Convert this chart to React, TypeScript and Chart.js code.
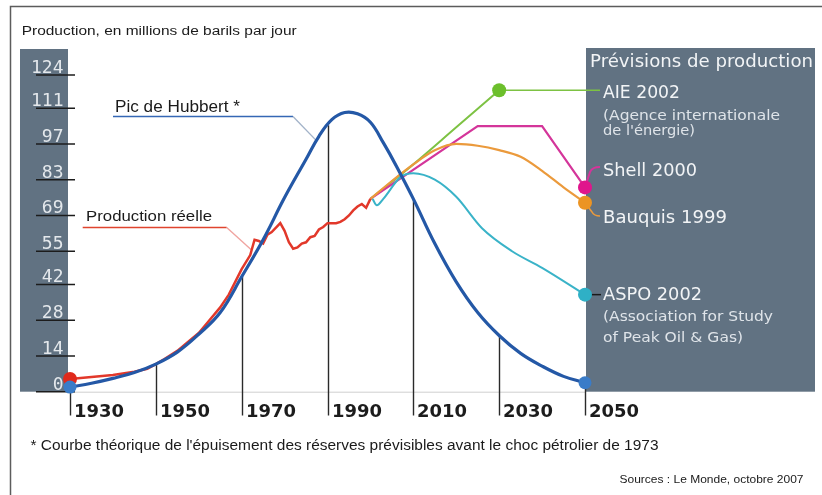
import React, { useEffect, useRef } from "react";
import { Chart, registerables } from "chart.js";

Chart.register(...registerables);

// ---------- DATA ----------
const xTicks = [1930, 1950, 1970, 1990, 2010, 2030, 2050];
const yTicks = [0, 14, 28, 42, 55, 69, 83, 97, 111, 124];

const hubbertYears = [1930, 1935, 1940, 1945, 1950, 1955, 1960, 1965, 1970, 1975, 1980, 1985, 1988, 1991, 1994, 1997, 2000, 2003, 2006, 2010, 2015, 2020, 2025, 2030, 2035, 2040, 2045, 2050];
const hubbertValues = [1.8, 3.3, 5.2, 7.5, 10.8, 15.5, 22.5, 31, 45, 59.5, 76, 91, 100, 106.5, 109.3, 108.8, 105.5, 97.5, 88.5, 75.5, 58, 43, 31, 22, 15, 10, 6, 3.5];

const realYears = [1930, 1935, 1940, 1945, 1948, 1950, 1952, 1955, 1957, 1960, 1962, 1965, 1967, 1970, 1972, 1973, 1974, 1975, 1976, 1977, 1979, 1980, 1981, 1982, 1983, 1984, 1985, 1986, 1987, 1988, 1989, 1990, 1991, 1992, 1993, 1994, 1995, 1996, 1997, 1998, 1999, 2000];
const realValues = [5, 5.8, 6.5, 7.8, 9, 10.8, 12.8, 16, 18.8, 23, 27, 33, 38, 48, 53.5, 59.5, 59, 58, 61.5, 62.5, 66, 63, 58.5, 56, 56.5, 58, 58.5, 60.5, 61, 63.5, 64.5, 66, 66, 66, 66.5, 67.5, 69, 71, 72.5, 73.5, 72, 75.5];

const aieYears = [2000, 2010, 2020, 2030];
const aieValues = [75.5, 89, 103.5, 118];

const shellYears = [2000, 2025, 2040, 2050];
const shellValues = [75.5, 104, 104, 80];

const bauquisYears = [2000, 2005, 2010, 2015, 2020, 2025, 2030, 2035, 2040, 2045, 2050];
const bauquisValues = [75.5, 82.5, 89, 94.5, 97, 96.3, 94.6, 92, 86.5, 80, 74];

const aspoYears = [2000.5, 2001.5, 2003, 2007, 2010, 2015, 2020, 2026, 2033, 2040, 2050];
const aspoValues = [75.5, 73, 75.5, 84, 85.5, 83, 76.3, 64, 55, 48.5, 38];

const titleText = "Production, en millions de barils par jour";
const hubbertLabel = "Pic de Hubbert *";
const realLabel = "Production réelle";
const panelTitle = "Prévisions de production";
const aieLabel = ["AIE 2002", "(Agence internationale", "de l'énergie)"];
const shellLabel = "Shell 2000";
const bauquisLabel = "Bauquis 1999";
const aspoLabel = ["ASPO 2002", "(Association for Study", "of Peak Oil & Gas)"];
const footnoteText = "* Courbe théorique de l'épuisement des réserves prévisibles avant le choc pétrolier de 1973";
const sourceText = "Sources : Le Monde, octobre 2007";

// ---------- HELPERS ----------
const toXY = (xs: number[], ys: number[]) => xs.map((x, i) => ({ x, y: ys[i] }));

function interp(xs: number[], ys: number[], x: number) {
  if (x <= xs[0]) return ys[0];
  for (let i = 1; i < xs.length; i++) {
    if (x <= xs[i]) {
      const t = (x - xs[i - 1]) / (xs[i] - xs[i - 1]);
      return ys[i - 1] + t * (ys[i] - ys[i - 1]);
    }
  }
  return ys[ys.length - 1];
}

const PANEL = "#617282";

function txt(
  ctx: CanvasRenderingContext2D,
  text: string,
  x: number,
  baseline: number,
  font: string,
  color: string,
  width?: number,
  align: "left" | "right" = "left"
) {
  ctx.save();
  ctx.font = font;
  ctx.fillStyle = color;
  ctx.textAlign = "left";
  ctx.textBaseline = "alphabetic";
  const w = ctx.measureText(text).width;
  const sx = width ? width / w : 1;
  const start = align === "right" ? x - (width ?? w) : x;
  ctx.translate(start, baseline);
  ctx.scale(sx, 1);
  ctx.fillText(text, 0, 0);
  ctx.restore();
}

function line(ctx: CanvasRenderingContext2D, pts: number[][], color: string, width: number) {
  ctx.save();
  ctx.strokeStyle = color;
  ctx.lineWidth = width;
  ctx.beginPath();
  pts.forEach((p, i) => (i === 0 ? ctx.moveTo(p[0], p[1]) : ctx.lineTo(p[0], p[1])));
  ctx.stroke();
  ctx.restore();
}

const decorPlugin = {
  id: "decor",
  beforeDatasetsDraw(chart: any) {
    const ctx: CanvasRenderingContext2D = chart.ctx;
    const xs = chart.scales.x;
    const ys = chart.scales.y;
    const X = (v: number) => xs.getPixelForValue(v);
    const Y = (v: number) => ys.getPixelForValue(v);
    const y0 = Y(0);

    // frame
    line(ctx, [[10.5, 495], [10.5, 6.5], [822, 6.5]], "#5c5c5c", 1.5);

    // panels
    ctx.save();
    ctx.fillStyle = PANEL;
    ctx.fillRect(20, 49, X(1930) - 2 - 20, y0 - 49);
    ctx.fillRect(X(2050) + 1, 48, 815 - X(2050) - 1, y0 - 48);
    ctx.restore();

    // faint axis line
    line(ctx, [[X(1930) - 2, y0 + 0.5], [X(2050) + 1, y0 + 0.5]], "#cfcfcf", 1);

    // title
    txt(ctx, titleText, 21.7, 34.5, '12.5px "Liberation Sans"', "#1a1a1a", 275);

    // y ticks
    yTicks.forEach((v) => {
      const py = Y(v);
      line(ctx, [[36, py], [75, py]], "#1c1c1c", 1.5);
      txt(ctx, String(v), 63.5, py - 2, '18px "DejaVu Sans Mono"', "#e4e8ec", undefined, "right");
    });

    // x ticks: vertical lines from axis label up to the Hubbert curve
    xTicks.forEach((yr) => {
      const top = Y(interp(hubbertYears, hubbertValues, yr));
      const px = Math.round(X(yr)) + 0.5;
      line(ctx, [[px, top], [px, 415.5]], "#2a2a2a", 1.4);
      txt(ctx, String(yr), px + 3.5, 416.5, 'bold 18px "DejaVu Sans"', "#1c1c1c", 50);
    });

    // leader labels
    txt(ctx, hubbertLabel, 115, 112, '16.5px "Liberation Sans"', "#1a1a1a", 125);
    line(ctx, [[113, 116.5], [293, 116.5]], "#3567b5", 1.6);
    line(ctx, [[293, 116.5], [X(1987.3), Y(98.5)]], "#a3b3c9", 1.4);

    txt(ctx, realLabel, 86, 221, '15.5px "Liberation Sans"', "#1a1a1a", 126);
    line(ctx, [[82.7, 227.5], [226.7, 227.5]], "#e0442e", 1.6);
    line(ctx, [[226.7, 227.5], [X(1972.3), Y(55.5)]], "#f0a4a0", 1.4);

    // right panel text
    const white = "#f2f4f6";
    const soft = "#dfe4e9";
    txt(ctx, panelTitle, 590, 66.5, '18px "DejaVu Sans"', white, 223);
    txt(ctx, aieLabel[0], 603, 98.3, '17px "DejaVu Sans"', white, 77);
    txt(ctx, aieLabel[1], 603, 120, '14px "DejaVu Sans"', soft, 177);
    txt(ctx, aieLabel[2], 603, 134.5, '14px "DejaVu Sans"', soft, 92);
    txt(ctx, shellLabel, 603, 176, '17.5px "DejaVu Sans"', white, 94);
    txt(ctx, bauquisLabel, 603, 223, '17.5px "DejaVu Sans"', white, 124);
    txt(ctx, aspoLabel[0], 603, 300, '17.5px "DejaVu Sans"', white, 99);
    txt(ctx, aspoLabel[1], 603, 320.7, '14px "DejaVu Sans"', soft, 170);
    txt(ctx, aspoLabel[2], 603, 341.7, '14px "DejaVu Sans"', soft, 140);

    // connectors from markers to labels
    const aX = X(aieYears[aieYears.length - 1]);
    const aY = Y(aieValues[aieValues.length - 1]);
    line(ctx, [[aX, aY], [600, aY]], "#7dc243", 1.4);

    const sX = X(2050), sY = Y(shellValues[shellValues.length - 1]);
    ctx.save();
    ctx.strokeStyle = "#d4359a";
    ctx.lineWidth = 2;
    ctx.beginPath();
    ctx.moveTo(sX, sY);
    ctx.lineTo(sX + 5, 172);
    ctx.quadraticCurveTo(sX + 7, 167, 600, 167);
    ctx.stroke();
    ctx.restore();

    const bX = X(2050), bY = Y(bauquisValues[bauquisValues.length - 1]);
    ctx.save();
    ctx.strokeStyle = "#eb9a3c";
    ctx.lineWidth = 1.6;
    ctx.beginPath();
    ctx.moveTo(bX, bY);
    ctx.lineTo(bX + 7, 212);
    ctx.quadraticCurveTo(bX + 9, 216, 600, 216);
    ctx.stroke();
    ctx.restore();

    const cY = Y(aspoValues[aspoValues.length - 1]);
    line(ctx, [[X(2050) + 5, cY], [601, cY]], "#1a1a1a", 1.5);

    // footnote and source
    txt(ctx, footnoteText, 30.5, 450, '14px "Liberation Sans"', "#1a1a1a", 628);
    txt(ctx, sourceText, 803.5, 483, '11.5px "Liberation Sans"', "#1a1a1a", 184, "right");
  },
};

export default function App() {
  const ref = useRef<HTMLCanvasElement>(null);

  useEffect(() => {
    if (!ref.current) return;
    const lastOnly = (n: number, r: number) => (c: any) => (c.dataIndex === n - 1 ? r : 0);
    const chart = new Chart(ref.current, {
      type: "line",
      data: {
        datasets: [
          {
            label: "Pic de Hubbert",
            data: toXY(hubbertYears, hubbertValues),
            borderColor: "#2458a6",
            borderWidth: 3.2,
            tension: 0.4,
            pointRadius: (c: any) => (c.dataIndex === 0 || c.dataIndex === hubbertYears.length - 1 ? 6.5 : 0),
            pointBackgroundColor: "#3a7cc8",
            pointBorderWidth: 0,
            clip: false,
            order: 0,
          },
          {
            label: "Production réelle",
            data: toXY(realYears, realValues),
            borderColor: "#e2382a",
            borderWidth: 2.5,
            tension: 0,
            pointRadius: (c: any) => (c.dataIndex === 0 ? 7 : 0),
            pointBackgroundColor: "#e02a1c",
            pointBorderWidth: 0,
            clip: false,
            order: 1,
          },
          {
            label: "AIE 2002",
            data: toXY(aieYears, aieValues),
            borderColor: "#7dc243",
            borderWidth: 2,
            cubicInterpolationMode: "monotone",
            pointRadius: lastOnly(aieYears.length, 7),
            pointBackgroundColor: "#6cbf2c",
            pointBorderWidth: 0,
            clip: false,
            order: 5,
          },
          {
            label: "Shell 2000",
            data: toXY(shellYears, shellValues),
            borderColor: "#d4359a",
            borderWidth: 2.2,
            tension: 0,
            pointRadius: lastOnly(shellYears.length, 7),
            pointBackgroundColor: "#e0158c",
            pointBorderWidth: 0,
            clip: false,
            order: 4,
          },
          {
            label: "Bauquis 1999",
            data: toXY(bauquisYears, bauquisValues),
            borderColor: "#eb9a3c",
            borderWidth: 2.2,
            cubicInterpolationMode: "monotone",
            pointRadius: lastOnly(bauquisYears.length, 7),
            pointBackgroundColor: "#ec9423",
            pointBorderWidth: 0,
            clip: false,
            order: 3,
          },
          {
            label: "ASPO 2002",
            data: toXY(aspoYears, aspoValues),
            borderColor: "#3ab3c8",
            borderWidth: 2,
            cubicInterpolationMode: "monotone",
            pointRadius: lastOnly(aspoYears.length, 7),
            pointBackgroundColor: "#2fb0c6",
            pointBorderWidth: 0,
            clip: false,
            order: 2,
          },
        ] as any,
      },
      options: {
        animation: false,
        responsive: false,
        devicePixelRatio: 1,
        events: [],
        layout: { padding: { left: 70, right: 237, top: 75, bottom: 103.3 } },
        scales: {
          x: { type: "linear", min: 1930, max: 2050, display: false },
          y: { type: "linear", min: 0, max: 124, display: false },
        },
        plugins: {
          legend: { display: false },
          tooltip: { enabled: false },
          title: { display: false },
        },
      } as any,
      plugins: [decorPlugin],
    });
    return () => chart.destroy();
  }, []);

  return (
    <div style={{ position: "absolute", left: 0, top: 0, width: 822, height: 495, background: "#ffffff" }}>
      <canvas ref={ref} width={822} height={495} style={{ display: "block" }} />
    </div>
  );
}
